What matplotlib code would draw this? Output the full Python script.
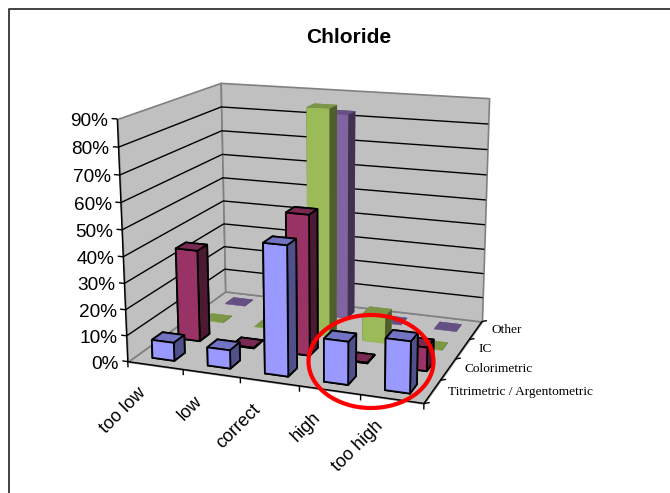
import numpy as np
import matplotlib
matplotlib.use("Agg")
import matplotlib.pyplot as plt
from matplotlib.patches import Ellipse
from mpl_toolkits.mplot3d.art3d import Poly3DCollection, Line3DCollection

W, H = 670, 493
categories = ["too low", "low", "correct", "high", "too high"]
series = ["Titrimetric / Argentometric", "Colorimetric", "IC", "Other"]
blue = [0.07, 0.07, 0.485, 0.16, 0.19]
maroon = [0.36, 0.0, 0.54, 0.0, 0.09]
green = [0.0, 0.0, 0.89, 0.11, 0.0]
purple = [0.0, 0.0, 0.83, 0.0, 0.0]
values = [blue, maroon, green, purple]
front_colors = ["#9999FF", "#993366", "#9BBB59", "#8064A2"]
top_colors = ["#7373C4", "#7A2952", "#7C9647", "#664F82"]
side_colors = ["#50508A", "#4D1A33", "#4F5E2C", "#403151"]
edge_colors = ["black", "black", "none", "none"]
pct_ticks = [i / 10 for i in range(10)]

# Camera calibration: chart-box corners -> output pixels
nx, ny, zmax = len(categories), len(series), 0.9
calib = [((0, 0, 0), (128, 362)), ((nx, 0, 0), (424, 403)), ((nx, ny, 0), (482, 322)),
         ((0, ny, 0), (225, 291)), ((0, 0, zmax), (117, 119)), ((0, ny, zmax), (221, 83)),
         ((nx, ny, zmax), (489, 98))]
A = []
for (x, y, z), (u, v) in calib:
    A.append([x, y, z, 1, 0, 0, 0, 0, -u * x, -u * y, -u * z, -u])
    A.append([0, 0, 0, 0, x, y, z, 1, -v * x, -v * y, -v * z, -v])
P = np.linalg.svd(np.array(A, float))[2][-1].reshape(3, 4)
if P[2, 3] < 0:
    P = -P
P = P / P[2, 3]
M = np.vstack([P[0], P[1], [0, 0, 0, -1], P[2]])


def project(x, y, z):
    p = P @ np.array([x, y, z, 1.0])
    return p[0] / p[2], p[1] / p[2]


plt.rcParams["font.family"] = ["Liberation Sans", "DejaVu Sans"]
fig = plt.figure(figsize=(W / 100, H / 100), dpi=100, facecolor="white")
ytop = -(W - H) / 2
ax = fig.add_axes([0, ytop / H, 1, W / H], projection="3d", computed_zorder=False)
ax.get_proj = lambda: M
ax.set_axis_off()
ax.patch.set_visible(False)

wall = "#C0C0C0"
gray = "#808080"
for verts in ([(0, 0, 0), (nx, 0, 0), (nx, ny, 0), (0, ny, 0)],
              [(0, 0, 0), (0, ny, 0), (0, ny, zmax), (0, 0, zmax)],
              [(0, ny, 0), (nx, ny, 0), (nx, ny, zmax), (0, ny, zmax)]):
    ax.add_collection3d(Poly3DCollection([verts], facecolor=wall, edgecolor=gray,
                                         linewidth=1.2, zorder=1), autolim=False)

grid = []
for z in pct_ticks[1:-1]:
    grid.append([(0, 0, z), (0, ny, z), (nx, ny, z)])
ax.add_collection3d(Line3DCollection(grid, colors="black", linewidths=1.0, zorder=2),
                    autolim=False)

# Front axes and tick marks
axes_lines = [[(0, 0, 0), (0, 0, zmax)], [(0, 0, 0), (nx, 0, 0), (nx, ny, 0)]]
for z in pct_ticks:
    axes_lines.append([(0, 0, z), (-0.1, 0, z)])
for i in range(nx + 1):
    axes_lines.append([(i, 0, 0), (i, 0, -0.022)])
for j in range(ny + 1):
    axes_lines.append([(nx, j, 0), (nx + 0.09, j, 0.006)])
ax.add_collection3d(Line3DCollection(axes_lines, colors="black", linewidths=1.0, zorder=3),
                    autolim=False)

zo = 10
bw = 0.4
for j in range(ny - 1, -1, -1):
    for i in range(nx - 1, -1, -1):
        h = max(values[j][i], 0.002)
        faces = [top_colors[j], top_colors[j], front_colors[j], top_colors[j],
                 side_colors[j], side_colors[j]]
        ax.bar3d(i + 0.3, j + 0.3, 0, bw, bw, h, color=faces, shade=False,
                 edgecolor=edge_colors[j], linewidth=1.3, zorder=zo)
        zo += 1

ax.viewLim.intervalx = (0, W)
ax.viewLim.intervaly = (H - ytop, ytop)

ov = fig.add_axes([0, 0, 1, 1], zorder=5)
ov.set_xlim(0, W)
ov.set_ylim(H, 0)
ov.axis("off")
ov.plot([9, 9, W], [H, 9, 9], color="#333333", lw=1.3, clip_on=False)
ov.add_patch(Ellipse((371, 361.5), 125, 93, angle=0, fill=False, ec="#FF0000", lw=3.0))
ov.text(349, 37.5, "Chloride", fontsize=15, fontweight="bold", ha="center", va="center")
for z in pct_ticks:
    px, py = project(0, 0, z)
    ov.text(px - 9, py + 2.5, f"{round(z * 100)}%", fontsize=13.7, ha="right", va="center")
for i, c in enumerate(categories):
    px, py = project(i + 0.5, 0, 0)
    ov.text(px - 12, py + 25, c, fontsize=13, rotation=45, ha="right", va="center",
            rotation_mode="anchor")
for j, s in enumerate(series):
    px, py = project(nx, j + 0.5, 0)
    ov.text(px + 16, py, s, fontsize=9.6, family="Liberation Serif", ha="left", va="center")

fig.savefig("out.png", dpi=100)
